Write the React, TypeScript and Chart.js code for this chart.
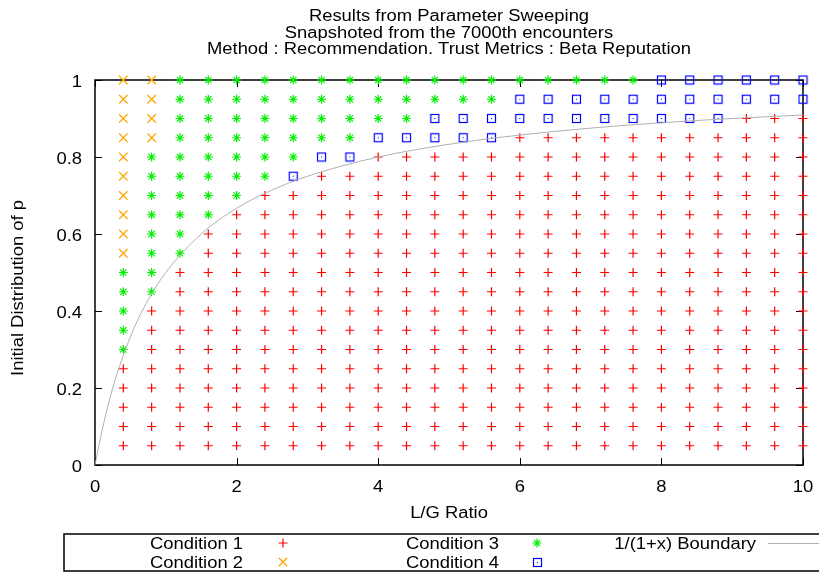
import React, { useEffect, useRef } from "react";
import { Chart, registerables } from "chart.js";
import { drawPoint } from "chart.js/helpers";

Chart.register(...registerables);

const TITLE_LINES = [
  "Results from Parameter Sweeping",
  "Snapshoted from the 7000th encounters",
  "Method : Recommendation. Trust Metrics : Beta Reputation",
];
const X_LABEL = "L/G Ratio";
const Y_LABEL = "Initial Distribution of p";

// grid of sweep points
const columnX = [0.4, 0.8, 1.2, 1.6, 2.0, 2.4, 2.8, 3.2, 3.6, 4.0, 4.4, 4.8, 5.2, 5.6, 6.0, 6.4, 6.8, 7.2, 7.6, 8.0, 8.4, 8.8, 9.2, 9.6, 10.0];
// rows listed from top to bottom
const rowY = [1.0, 0.95, 0.9, 0.85, 0.8, 0.75, 0.7, 0.65, 0.6, 0.55, 0.5, 0.45, 0.4, 0.35, 0.3, 0.25, 0.2, 0.15, 0.1, 0.05];
// number of rows (from the top of each column) in each condition; the rest are Condition 1
const cond2Count = [10, 4, 0, 0, 0, 0, 0, 0, 0, 0, 0, 0, 0, 0, 0, 0, 0, 0, 0, 0, 0, 0, 0, 0, 0];
const cond3Count = [5, 8, 10, 8, 7, 6, 5, 4, 4, 3, 3, 2, 2, 2, 1, 1, 1, 1, 1, 0, 0, 0, 0, 0, 0];
const cond4Count = [0, 0, 0, 0, 0, 0, 1, 1, 1, 1, 1, 2, 2, 2, 2, 2, 2, 2, 2, 3, 3, 3, 2, 2, 2];

// boundary curve
const boundaryX = [0, 0.1, 0.25, 0.5, 0.75, 1, 1.5, 2, 2.5, 3, 4, 5, 6, 7, 8, 9, 10];
const boundaryY = [0, 0.09, 0.2, 0.333, 0.429, 0.5, 0.6, 0.667, 0.714, 0.75, 0.8, 0.833, 0.857, 0.875, 0.889, 0.9, 0.909];

const X_TICKS_STEP = 2;
const Y_TICKS_STEP = 0.2;

const LEGEND_LABELS = ["Condition 1", "Condition 2", "Condition 3", "Condition 4", "1/(1+x) Boundary"];

const C1 = "#ff0000";
const C2 = "#ffa500";
const C3 = "#00f000";
const C4 = "#0000ff";
const CB = "#b0b0b0";

const FONT = "16px 'Liberation Sans', Arial, sans-serif";
const SX = 1.15;
const DY = 2;

function makeBoxImage(): HTMLCanvasElement {
  const c = document.createElement("canvas");
  c.width = 11;
  c.height = 11;
  const g = c.getContext("2d")!;
  g.strokeStyle = C4;
  g.lineWidth = 1.2;
  g.strokeRect(1.5, 1.5, 8, 8);
  g.fillStyle = C4;
  g.fillRect(5, 5, 1, 1);
  return c;
}

function drawText(ctx: CanvasRenderingContext2D, text: string, x: number, y: number, align: CanvasTextAlign, rot = 0) {
  ctx.save();
  ctx.translate(x, y);
  if (rot) ctx.rotate(rot);
  ctx.scale(SX, 1);
  ctx.font = FONT;
  ctx.fillStyle = "#000";
  ctx.textAlign = align;
  ctx.textBaseline = "middle";
  ctx.fillText(text, 0, 0);
  ctx.restore();
}

export default function App() {
  const ref = useRef<HTMLCanvasElement>(null);
  useEffect(() => {
    const canvas = ref.current!;
    const boxImg = makeBoxImage();
    const p1: { x: number; y: number }[] = [];
    const p2: { x: number; y: number }[] = [];
    const p3: { x: number; y: number }[] = [];
    const p4: { x: number; y: number }[] = [];
    columnX.forEach((x, i) => {
      const a = cond2Count[i];
      const b = a + cond3Count[i];
      const c = b + cond4Count[i];
      rowY.forEach((y, j) => {
        const pt = { x, y };
        if (j < a) p2.push(pt);
        else if (j < b) p3.push(pt);
        else if (j < c) p4.push(pt);
        else p1.push(pt);
      });
    });
    const boundary = boundaryX.map((x, i) => ({ x, y: boundaryY[i] }));

    const frame = {
      id: "frame",
      beforeDatasetsDraw(chart: any) {
        const { ctx, chartArea: a, scales } = chart;
        ctx.save();
        ctx.strokeStyle = "#000";
        ctx.lineWidth = 1.5;
        ctx.strokeRect(a.left, a.top, a.right - a.left, a.bottom - a.top);
        ctx.lineWidth = 1;
        const TL = 7;
        ctx.beginPath();
        scales.x.ticks.forEach((t: any) => {
          const px = Math.round(scales.x.getPixelForValue(t.value)) + 0.5;
          ctx.moveTo(px, a.bottom);
          ctx.lineTo(px, a.bottom - TL);
          ctx.moveTo(px, a.top);
          ctx.lineTo(px, a.top + TL);
        });
        scales.y.ticks.forEach((t: any) => {
          const py = Math.round(scales.y.getPixelForValue(t.value)) + 0.5;
          ctx.moveTo(a.left, py);
          ctx.lineTo(a.left + TL, py);
          ctx.moveTo(a.right, py);
          ctx.lineTo(a.right - TL, py);
        });
        ctx.stroke();
        ctx.restore();
      },
      afterDraw(chart: any) {
        const { ctx, chartArea: a, scales } = chart;
        const cx = (a.left + a.right) / 2;
        // title
        const titleY = [15, 31.5, 48];
        TITLE_LINES.forEach((t, i) => drawText(ctx, t, cx, titleY[i] + DY, "center"));
        // tick labels
        scales.x.ticks.forEach((t: any) => {
          const px = scales.x.getPixelForValue(t.value);
          drawText(ctx, String(Math.round(t.value * 10) / 10), px, a.bottom + 21 + DY, "center");
        });
        scales.y.ticks.forEach((t: any) => {
          const py = scales.y.getPixelForValue(t.value);
          drawText(ctx, String(Math.round(t.value * 10) / 10), a.left - 13, py + 1 + DY, "right");
        });
        // axis titles
        drawText(ctx, X_LABEL, cx, 512 + DY, "center");
        drawText(ctx, Y_LABEL, 19, 288, "center", -Math.PI / 2);
        // legend
        ctx.save();
        ctx.strokeStyle = "#000";
        ctx.lineWidth = 1.5;
        ctx.strokeRect(64, 534, 800, 37);
        ctx.restore();
        const r1 = 543;
        const r2 = 562;
        drawText(ctx, LEGEND_LABELS[0], 243, r1 + DY, "right");
        drawText(ctx, LEGEND_LABELS[1], 243, r2 + DY, "right");
        drawText(ctx, LEGEND_LABELS[2], 499, r1 + DY, "right");
        drawText(ctx, LEGEND_LABELS[3], 499, r2 + DY, "right");
        drawText(ctx, LEGEND_LABELS[4], 756, r1 + DY, "right");
        ctx.save();
        ctx.lineWidth = 1.2;
        ctx.strokeStyle = C1;
        drawPoint(ctx, { pointStyle: "cross", radius: 4.5, rotation: 0, borderWidth: 1.2 } as any, 283, r1);
        ctx.strokeStyle = C2;
        drawPoint(ctx, { pointStyle: "crossRot", radius: 6, rotation: 0, borderWidth: 1.2 } as any, 283, r2);
        ctx.strokeStyle = C3;
        drawPoint(ctx, { pointStyle: "star", radius: 4.5, rotation: 0, borderWidth: 1.2 } as any, 537, r1);
        ctx.drawImage(boxImg, 537 - 5, r2 - 5);
        ctx.lineWidth = 1;
        ctx.strokeStyle = CB;
        ctx.beginPath();
        ctx.moveTo(768, r1 + 0.5);
        ctx.lineTo(830, r1 + 0.5);
        ctx.stroke();
        ctx.restore();
      },
    };

    const chart = new Chart(canvas, {
      type: "scatter",
      data: {
        datasets: [
          {
            type: "line",
            label: LEGEND_LABELS[4],
            data: boundary,
            borderColor: CB,
            borderWidth: 1,
            pointRadius: 0,
            fill: false,
            cubicInterpolationMode: "monotone",
            order: 0,
          } as any,
          {
            label: LEGEND_LABELS[0],
            data: p1,
            pointStyle: "cross",
            pointRadius: 4.5,
            borderColor: C1,
            backgroundColor: C1,
            borderWidth: 1.2,
            clip: false,
            order: 1,
          },
          {
            label: LEGEND_LABELS[1],
            data: p2,
            pointStyle: "crossRot",
            pointRadius: 6,
            borderColor: C2,
            backgroundColor: C2,
            borderWidth: 1.2,
            clip: false,
            order: 2,
          },
          {
            label: LEGEND_LABELS[2],
            data: p3,
            pointStyle: "star",
            pointRadius: 4.5,
            borderColor: C3,
            backgroundColor: C3,
            borderWidth: 1.2,
            clip: false,
            order: 3,
          },
          {
            label: LEGEND_LABELS[3],
            data: p4,
            pointStyle: boxImg,
            pointRadius: 6,
            borderColor: C4,
            backgroundColor: C4,
            borderWidth: 1,
            clip: false,
            order: 4,
          },
        ],
      },
      options: {
        animation: false,
        responsive: false,
        events: [],
        layout: { padding: { top: 80, right: 16, left: 0, bottom: 0 } },
        plugins: { legend: { display: false }, title: { display: false }, tooltip: { enabled: false } },
        scales: {
          x: {
            type: "linear",
            min: 0,
            max: 10,
            ticks: { display: false, stepSize: X_TICKS_STEP },
            grid: { display: false, drawTicks: false },
            border: { display: false },
            afterFit(s: any) {
              s.height = 107;
            },
          },
          y: {
            type: "linear",
            min: 0,
            max: 1,
            ticks: { display: false, stepSize: Y_TICKS_STEP },
            grid: { display: false, drawTicks: false },
            border: { display: false },
            afterFit(s: any) {
              s.width = 95;
            },
          },
        },
      },
      plugins: [frame],
    });
    return () => chart.destroy();
  }, []);
  return (
    <div style={{ position: "fixed", left: 0, top: 0, width: 819, height: 572, background: "#fff" }}>
      <canvas ref={ref} width={819} height={572} style={{ display: "block" }} />
    </div>
  );
}
